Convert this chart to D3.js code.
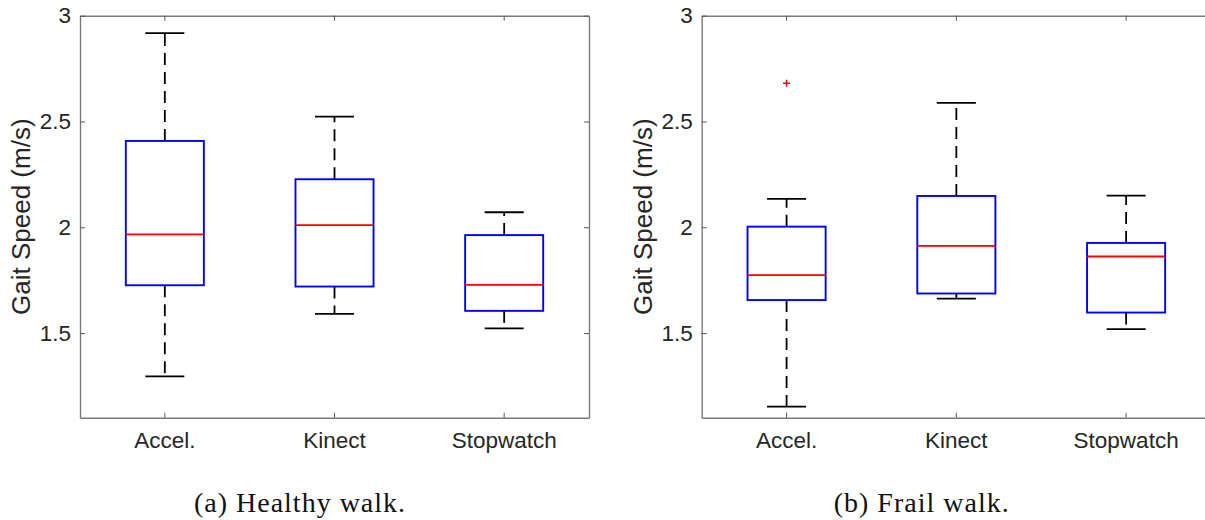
<!DOCTYPE html>
<html>
<head>
<meta charset="utf-8">
<script src="https://cdn.jsdelivr.net/npm/d3@7"></script>
<style>
  html, body { margin: 0; padding: 0; background: #fff; }
  svg { display: block; }
</style>
</head>
<body>
<svg id="chart" width="1205" height="520"></svg>
<script>
// Measurement methods on the x axis
const categories = ["Accel.", "Kinect", "Stopwatch"];
const yTicks = [1.5, 2, 2.5, 3];
const yDomain = [1.1, 3];

// Healthy walk: box-plot statistics per method (m/s)
const healthyLow  = [1.295, 1.591, 1.522];
const healthyQ1   = [1.726, 1.720, 1.605];
const healthyMed  = [1.966, 2.010, 1.728];
const healthyQ3   = [2.408, 2.227, 1.963];
const healthyHigh = [2.918, 2.523, 2.071];
const healthyOutCat = [];
const healthyOutVal = [];

// Frail walk: box-plot statistics per method (m/s)
const frailLow  = [1.152, 1.663, 1.519];
const frailQ1   = [1.656, 1.687, 1.597];
const frailMed  = [1.774, 1.912, 1.862];
const frailQ3   = [2.003, 2.148, 1.926];
const frailHigh = [2.134, 2.588, 2.150];
const frailOutCat = ["Accel."];
const frailOutVal = [2.681];

const svg = d3.select("#chart");
const axisColor = "#7a7a7a";
const textColor = "#262626";
const sans = "'Liberation Sans', Arial, Helvetica, sans-serif";

function panel(opts) {
  const { left, right, top, bottom, low, q1, med, q3, high, outCat, outVal, caption, captionX } = opts;
  const g = svg.append("g");

  const x = d3.scaleBand().domain(categories).range([left, right]).paddingInner(0).paddingOuter(0);
  const y = d3.scaleLinear().domain(yDomain).range([bottom, top]);
  const cx = c => x(c) + x.bandwidth() / 2;
  const boxW = x.bandwidth() * 0.46;
  const capW = boxW / 2;

  const stats = categories.map((c, i) => ({ c, low: low[i], q1: q1[i], med: med[i], q3: q3[i], high: high[i] }));

  // frame with inward ticks on all four sides
  const styleAxis = (sel, showLabels) => {
    sel.select(".domain").attr("stroke", axisColor).attr("stroke-width", 1.4);
    sel.selectAll(".tick line").attr("stroke", "#555").attr("stroke-width", 1);
    sel.selectAll(".tick text")
      .attr("fill", textColor)
      .attr("font-family", sans)
      .attr("font-size", 22.5)
      .style("display", showLabels ? null : "none");
  };

  g.append("g").attr("transform", `translate(0,${bottom})`)
    .call(d3.axisBottom(x).tickSizeInner(-5).tickSizeOuter(0).tickPadding(14))
    .call(s => styleAxis(s, true));
  g.append("g").attr("transform", `translate(0,${top})`)
    .call(d3.axisTop(x).tickSizeInner(-5).tickSizeOuter(0))
    .call(s => styleAxis(s, false));
  g.append("g").attr("transform", `translate(${left},0)`)
    .call(d3.axisLeft(y).tickValues(yTicks).tickFormat(d3.format("~g")).tickSizeInner(-5).tickSizeOuter(0).tickPadding(9))
    .call(s => styleAxis(s, true));
  g.append("g").attr("transform", `translate(${right},0)`)
    .call(d3.axisRight(y).tickValues(yTicks).tickSizeInner(-5).tickSizeOuter(0))
    .call(s => styleAxis(s, false));

  // y-axis title
  g.append("text")
    .attr("transform", `translate(${left - 50},${(top + bottom) / 2}) rotate(-90)`)
    .attr("text-anchor", "middle")
    .attr("fill", textColor)
    .attr("font-family", sans)
    .attr("font-size", 26)
    .text("Gait Speed (m/s)");

  const boxes = g.append("g").selectAll("g").data(stats).join("g");

  // dashed whiskers
  boxes.append("line")
    .attr("x1", d => cx(d.c)).attr("x2", d => cx(d.c))
    .attr("y1", d => y(d.q3)).attr("y2", d => y(d.high))
    .attr("stroke", "#000").attr("stroke-width", 1.8).attr("stroke-dasharray", "12,7");
  boxes.append("line")
    .attr("x1", d => cx(d.c)).attr("x2", d => cx(d.c))
    .attr("y1", d => y(d.q1)).attr("y2", d => y(d.low))
    .attr("stroke", "#000").attr("stroke-width", 1.8).attr("stroke-dasharray", "12,7");

  // whisker caps
  boxes.append("line")
    .attr("x1", d => cx(d.c) - capW / 2).attr("x2", d => cx(d.c) + capW / 2)
    .attr("y1", d => y(d.high)).attr("y2", d => y(d.high))
    .attr("stroke", "#000").attr("stroke-width", 1.8);
  boxes.append("line")
    .attr("x1", d => cx(d.c) - capW / 2).attr("x2", d => cx(d.c) + capW / 2)
    .attr("y1", d => y(d.low)).attr("y2", d => y(d.low))
    .attr("stroke", "#000").attr("stroke-width", 1.8);

  // interquartile boxes
  boxes.append("rect")
    .attr("x", d => cx(d.c) - boxW / 2)
    .attr("width", boxW)
    .attr("y", d => y(d.q3))
    .attr("height", d => y(d.q1) - y(d.q3))
    .attr("fill", "none")
    .attr("stroke", "#0000ff")
    .attr("stroke-width", 1.9);

  // medians
  boxes.append("line")
    .attr("x1", d => cx(d.c) - boxW / 2).attr("x2", d => cx(d.c) + boxW / 2)
    .attr("y1", d => y(d.med)).attr("y2", d => y(d.med))
    .attr("stroke", "#ff0000").attr("stroke-width", 1.8);

  // outliers as red plus markers
  const outs = outCat.map((c, i) => ({ c, v: outVal[i] }));
  g.append("g").selectAll("path").data(outs).join("path")
    .attr("d", d => `M${cx(d.c) - 3.5},${y(d.v)}H${cx(d.c) + 3.5}M${cx(d.c)},${y(d.v) - 3.5}V${y(d.v) + 3.5}`)
    .attr("stroke", "#ff0000").attr("stroke-width", 1.6).attr("fill", "none");

  // sub-figure caption
  svg.append("text")
    .attr("x", captionX).attr("y", 512)
    .attr("text-anchor", "middle")
    .attr("fill", "#111")
    .attr("font-family", "'Liberation Serif', 'Times New Roman', serif")
    .attr("font-size", 28)
    .attr("letter-spacing", 1)
    .text(caption);
}

panel({
  left: 80, right: 589, top: 15.7, bottom: 417.7,
  low: healthyLow, q1: healthyQ1, med: healthyMed, q3: healthyQ3, high: healthyHigh,
  outCat: healthyOutCat, outVal: healthyOutVal,
  caption: "(a) Healthy walk.", captionX: 300
});

panel({
  left: 701.7, right: 1211, top: 15.7, bottom: 417.7,
  low: frailLow, q1: frailQ1, med: frailMed, q3: frailQ3, high: frailHigh,
  outCat: frailOutCat, outVal: frailOutVal,
  caption: "(b) Frail walk.", captionX: 921.7
});
</script>
</body>
</html>
